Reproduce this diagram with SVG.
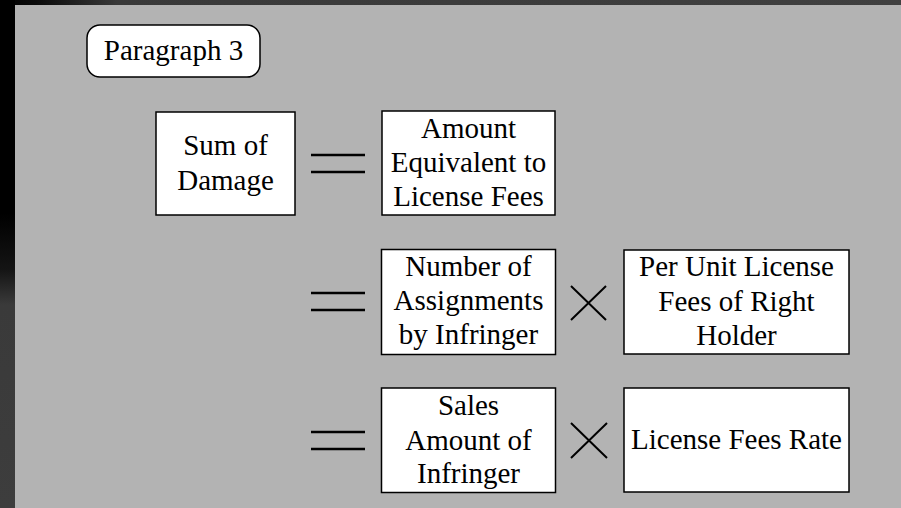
<svg xmlns="http://www.w3.org/2000/svg" width="901" height="508" viewBox="0 0 901 508">
<defs>
<linearGradient id="lg" x1="0" y1="0" x2="0" y2="1">
<stop offset="0" stop-color="#000"/>
<stop offset="0.42" stop-color="#000"/>
<stop offset="0.53" stop-color="#141414"/>
<stop offset="0.6" stop-color="#3a3a3a"/>
<stop offset="1" stop-color="#3d3d3d"/>
</linearGradient>
<linearGradient id="tg" x1="0" y1="0" x2="1" y2="0">
<stop offset="0" stop-color="#000"/>
<stop offset="0.04" stop-color="#0a0a0a"/>
<stop offset="0.13" stop-color="#393939"/>
<stop offset="1" stop-color="#404040"/>
</linearGradient>
<style>
.box{fill:#fff;stroke:#000;stroke-width:1.5}
.t{font-family:"Liberation Serif","Times New Roman",serif;font-size:29px;fill:#000;text-anchor:middle}
.eq{stroke:#000;stroke-width:2.6;fill:none}
.x{stroke:#000;stroke-width:2;fill:none}
</style>
</defs>
<rect x="0" y="0" width="901" height="508" fill="#3d3d3d"/>
<rect x="0" y="0" width="901" height="5" fill="url(#tg)"/>
<rect x="0" y="0" width="15" height="508" fill="url(#lg)"/>
<rect x="15" y="5" width="886" height="503" fill="#b3b3b3"/>

<g id="paragraph3">
<rect class="box" x="87" y="25" width="173" height="52" rx="13" ry="13"/>
<text class="t" x="173.5" y="60">Paragraph 3</text>
</g>

<g id="sumOfDamage">
<rect class="box" x="156" y="112" width="139" height="103"/>
<text class="t" x="225.5" y="155">Sum of</text>
<text class="t" x="225.5" y="190">Damage</text>
</g>

<g id="amountEquivalent">
<rect class="box" x="382" y="111" width="173" height="104"/>
<text class="t" x="468.5" y="138">Amount</text>
<text class="t" x="468.5" y="172">Equivalent to</text>
<text class="t" x="468.5" y="206">License Fees</text>
</g>

<g id="numberOfAssignments">
<rect class="box" x="381.5" y="249.5" width="174" height="105"/>
<text class="t" x="468.5" y="276">Number of</text>
<text class="t" x="468.5" y="310">Assignments</text>
<text class="t" x="468.5" y="344">by Infringer</text>
</g>

<g id="perUnitFees">
<rect class="box" x="624" y="250" width="225" height="104"/>
<text class="t" x="736.5" y="276">Per Unit License</text>
<text class="t" x="736.5" y="311">Fees of Right</text>
<text class="t" x="736.5" y="345">Holder</text>
</g>

<g id="salesAmount">
<rect class="box" x="381.5" y="388" width="174" height="104.5"/>
<text class="t" x="468.5" y="415">Sales</text>
<text class="t" x="468.5" y="450">Amount of</text>
<text class="t" x="468.5" y="483">Infringer</text>
</g>

<g id="licenseFeesRate">
<rect class="box" x="624" y="388" width="225" height="104"/>
<text class="t" x="736.5" y="449">License Fees Rate</text>
</g>

<g id="connectors">
<path class="eq" d="M311 155H365M311 172H365"/>
<path class="eq" d="M311 293H365M311 310H365"/>
<path class="eq" d="M311 432H365M311 449H365"/>
<path class="x" d="M571 286L606 320M606 286L571 320"/>
<path class="x" d="M571 423L607 458M607 423L571 458"/>
</g>
</svg>
